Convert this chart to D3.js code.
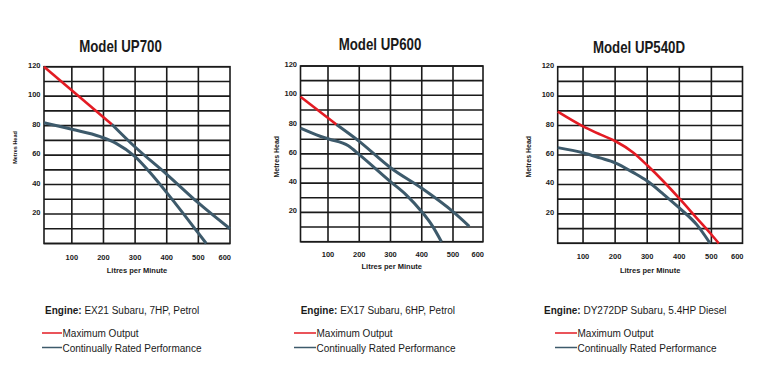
<!DOCTYPE html>
<html>
<head>
<meta charset="utf-8">
<script src="https://cdn.jsdelivr.net/npm/d3@7"></script>
<style>
  html, body { margin: 0; padding: 0; background: #fff; }
  svg { display: block; }
  text { font-family: "Liberation Sans", Arial, sans-serif; fill: #1a1a1a; }
</style>
</head>
<body>
<svg id="chart" width="760" height="384"></svg>
<script>
// ---------------- DATA ----------------
const titles = ["Model UP700", "Model UP600", "Model UP540D"];
const engines = ["EX21 Subaru, 7HP, Petrol", "EX17 Subaru, 6HP, Petrol", "DY272DP Subaru, 5.4HP Diesel"];
const seriesNames = ["Maximum Output", "Continually Rated Performance"];
const xAxisTitle = "Litres per Minute";
const yAxisTitle = "Metres Head";
const xTicks = [100, 200, 300, 400, 500, 600];
const yTicks = [20, 40, 60, 80, 100, 120];
const xDomains = [[12, 600], [12, 596], [21, 597]];
const yDomain = [0, 120];

// UP700 : [litres per minute, metres head]
const up700Max = [[12, 120], [226, 81]];
const up700MaxCont = [[226, 81], [300, 65.5], [400, 47], [500, 27.5], [600, 10]];
const up700Rated = [[12, 82], [100, 77.5], [190, 72.5], [240, 68], [300, 59], [350, 47.5], [400, 34.5], [450, 21], [500, 7], [525, 0]];

// UP600
const up600Max = [[12, 99], [127, 80]];
const up600MaxCont = [[127, 80], [200, 68.5], [300, 50.5], [400, 36.5], [500, 20.5], [552, 10.5]];
const up600Rated = [[12, 77.5], [75, 72], [105, 70], [165, 65.5], [200, 59.5], [300, 41], [350, 32], [400, 20.5], [435, 10.5], [463, 0]];

// UP540D
const up540Max = [[21, 89.5], [100, 79.5], [153, 74], [200, 69.5], [257, 61.5], [300, 53], [351, 42], [400, 30.5], [455, 17], [500, 6], [523, 0]];
const up540MaxCont = [];
const up540Rated = [[21, 65], [100, 61.5], [153, 58], [200, 54.7], [257, 48], [300, 42.3], [351, 33.3], [400, 24], [455, 12.5], [496, 0]];

// ---------------- LAYOUT / STYLE ----------------
const RED = "#e31b23", BLUE = "#3d5a6b", GRID = "#1a1a1a";
const panels = [
  {left: 44,    right: 230,   top: 66.7, bottom: 243.5, titleX: 120.5, titleY: 51.5, yLabX: 15,  yLabY: 147.5, yLabSize: 5.5, xLabY: 260,   axisTitleY: 272.5, legendX: 42,  lineLen: 20, engineX: 45},
  {left: 300.5, right: 483,   top: 66,   bottom: 241.7, titleX: 380,   titleY: 50,   yLabX: 276, yLabY: 156.7, yLabSize: 7,   xLabY: 256.5, axisTitleY: 269,   legendX: 294, lineLen: 22, engineX: 300.7},
  {left: 557.7, right: 742.5, top: 66.7, bottom: 243.3, titleX: 639,   titleY: 53.3, yLabX: 528, yLabY: 156.7, yLabSize: 7,   xLabY: 259,   axisTitleY: 272.5, legendX: 555, lineLen: 22, engineX: 544}
];
const seriesByPanel = [
  {max: up700Max, cont: up700MaxCont, rated: up700Rated},
  {max: up600Max, cont: up600MaxCont, rated: up600Rated},
  {max: up540Max, cont: up540MaxCont, rated: up540Rated}
];

const svg = d3.select("#chart");
svg.append("rect").attr("width", 760).attr("height", 384).attr("fill", "#fff");

panels.forEach((p, i) => {
  const g = svg.append("g");
  const x = d3.scaleLinear().domain(xDomains[i]).range([p.left, p.right]);
  const y = d3.scaleLinear().domain(yDomain).range([p.bottom, p.top]);

  // Title
  g.append("text")
    .attr("transform", `translate(${p.titleX},${p.titleY}) scale(0.83,1)`)
    .attr("text-anchor", "middle")
    .attr("font-size", 16).attr("font-weight", "bold")
    .attr("fill", "#111")
    .text(titles[i]);

  // Grid: horizontal every 10 m
  const hVals = d3.range(yDomain[0], yDomain[1] + 1, 10);
  g.selectAll(".h").data(hVals).enter().append("line")
    .attr("x1", p.left).attr("x2", p.right)
    .attr("y1", d => y(d)).attr("y2", d => y(d))
    .attr("stroke", GRID).attr("stroke-width", 1.6);
  // vertical at x ticks inside domain
  const vVals = xTicks.filter(v => v < xDomains[i][1] - 5);
  g.selectAll(".v").data(vVals).enter().append("line")
    .attr("x1", d => x(d)).attr("x2", d => x(d))
    .attr("y1", p.top).attr("y2", p.bottom)
    .attr("stroke", GRID).attr("stroke-width", 1.6);
  g.append("rect")
    .attr("x", p.left).attr("y", p.top)
    .attr("width", p.right - p.left).attr("height", p.bottom - p.top)
    .attr("fill", "none").attr("stroke", GRID).attr("stroke-width", 1.6);

  // Y tick labels
  g.selectAll(".yt").data(yTicks).enter().append("text")
    .attr("x", p.left - 3.5).attr("y", d => y(d) - 1.5)
    .attr("text-anchor", "end").attr("dominant-baseline", "central")
    .attr("font-size", 7.5).attr("font-weight", "bold")
    .text(d => d);

  // X tick labels
  g.selectAll(".xt").data(xTicks).enter().append("text")
    .attr("x", (d, k) => k === xTicks.length - 1 ? Math.min(x(d), p.right) + 1 : x(d))
    .attr("y", p.xLabY)
    .attr("text-anchor", (d, k) => k === xTicks.length - 1 ? "end" : "middle")
    .attr("font-size", 7.5).attr("font-weight", "bold")
    .text(d => d);

  // Axis titles
  g.append("text")
    .attr("x", (p.left + p.right) / 2).attr("y", p.axisTitleY)
    .attr("text-anchor", "middle")
    .attr("font-size", 7.5).attr("font-weight", "bold")
    .text(xAxisTitle);
  g.append("text")
    .attr("transform", `translate(${p.yLabX},${p.yLabY}) rotate(-90)`)
    .attr("text-anchor", "middle").attr("dominant-baseline", "central")
    .attr("font-size", p.yLabSize).attr("font-weight", "bold")
    .text(yAxisTitle);

  // Curves
  const line = d3.line().x(d => x(d[0])).y(d => y(d[1])).curve(d3.curveMonotoneX);
  const s = seriesByPanel[i];
  g.append("path").datum(s.rated).attr("d", line)
    .attr("fill", "none").attr("stroke", BLUE).attr("stroke-width", 3).attr("stroke-linejoin", "round");
  if (s.cont.length) {
    g.append("path").datum(s.cont).attr("d", line)
      .attr("fill", "none").attr("stroke", BLUE).attr("stroke-width", 3).attr("stroke-linejoin", "round");
  }
  g.append("path").datum(s.max).attr("d", line)
    .attr("fill", "none").attr("stroke", RED).attr("stroke-width", 2.6).attr("stroke-linejoin", "round");

  // Legend
  const eng = g.append("text").attr("x", p.engineX).attr("y", 313.5).attr("font-size", 10);
  eng.append("tspan").attr("font-weight", "bold").text("Engine:");
  eng.append("tspan").text(" " + engines[i]);

  const legColors = [RED, BLUE];
  const legLineY = [333, 347.5];
  const legTextY = [337.3, 351.8];
  seriesNames.forEach((name, k) => {
    g.append("line")
      .attr("x1", p.legendX).attr("x2", p.legendX + p.lineLen)
      .attr("y1", legLineY[k]).attr("y2", legLineY[k])
      .attr("stroke", legColors[k]).attr("stroke-width", 1.5);
    g.append("text")
      .attr("x", p.legendX + p.lineLen + 0.5).attr("y", legTextY[k])
      .attr("font-size", 10)
      .text(name);
  });
});
</script>
</body>
</html>
